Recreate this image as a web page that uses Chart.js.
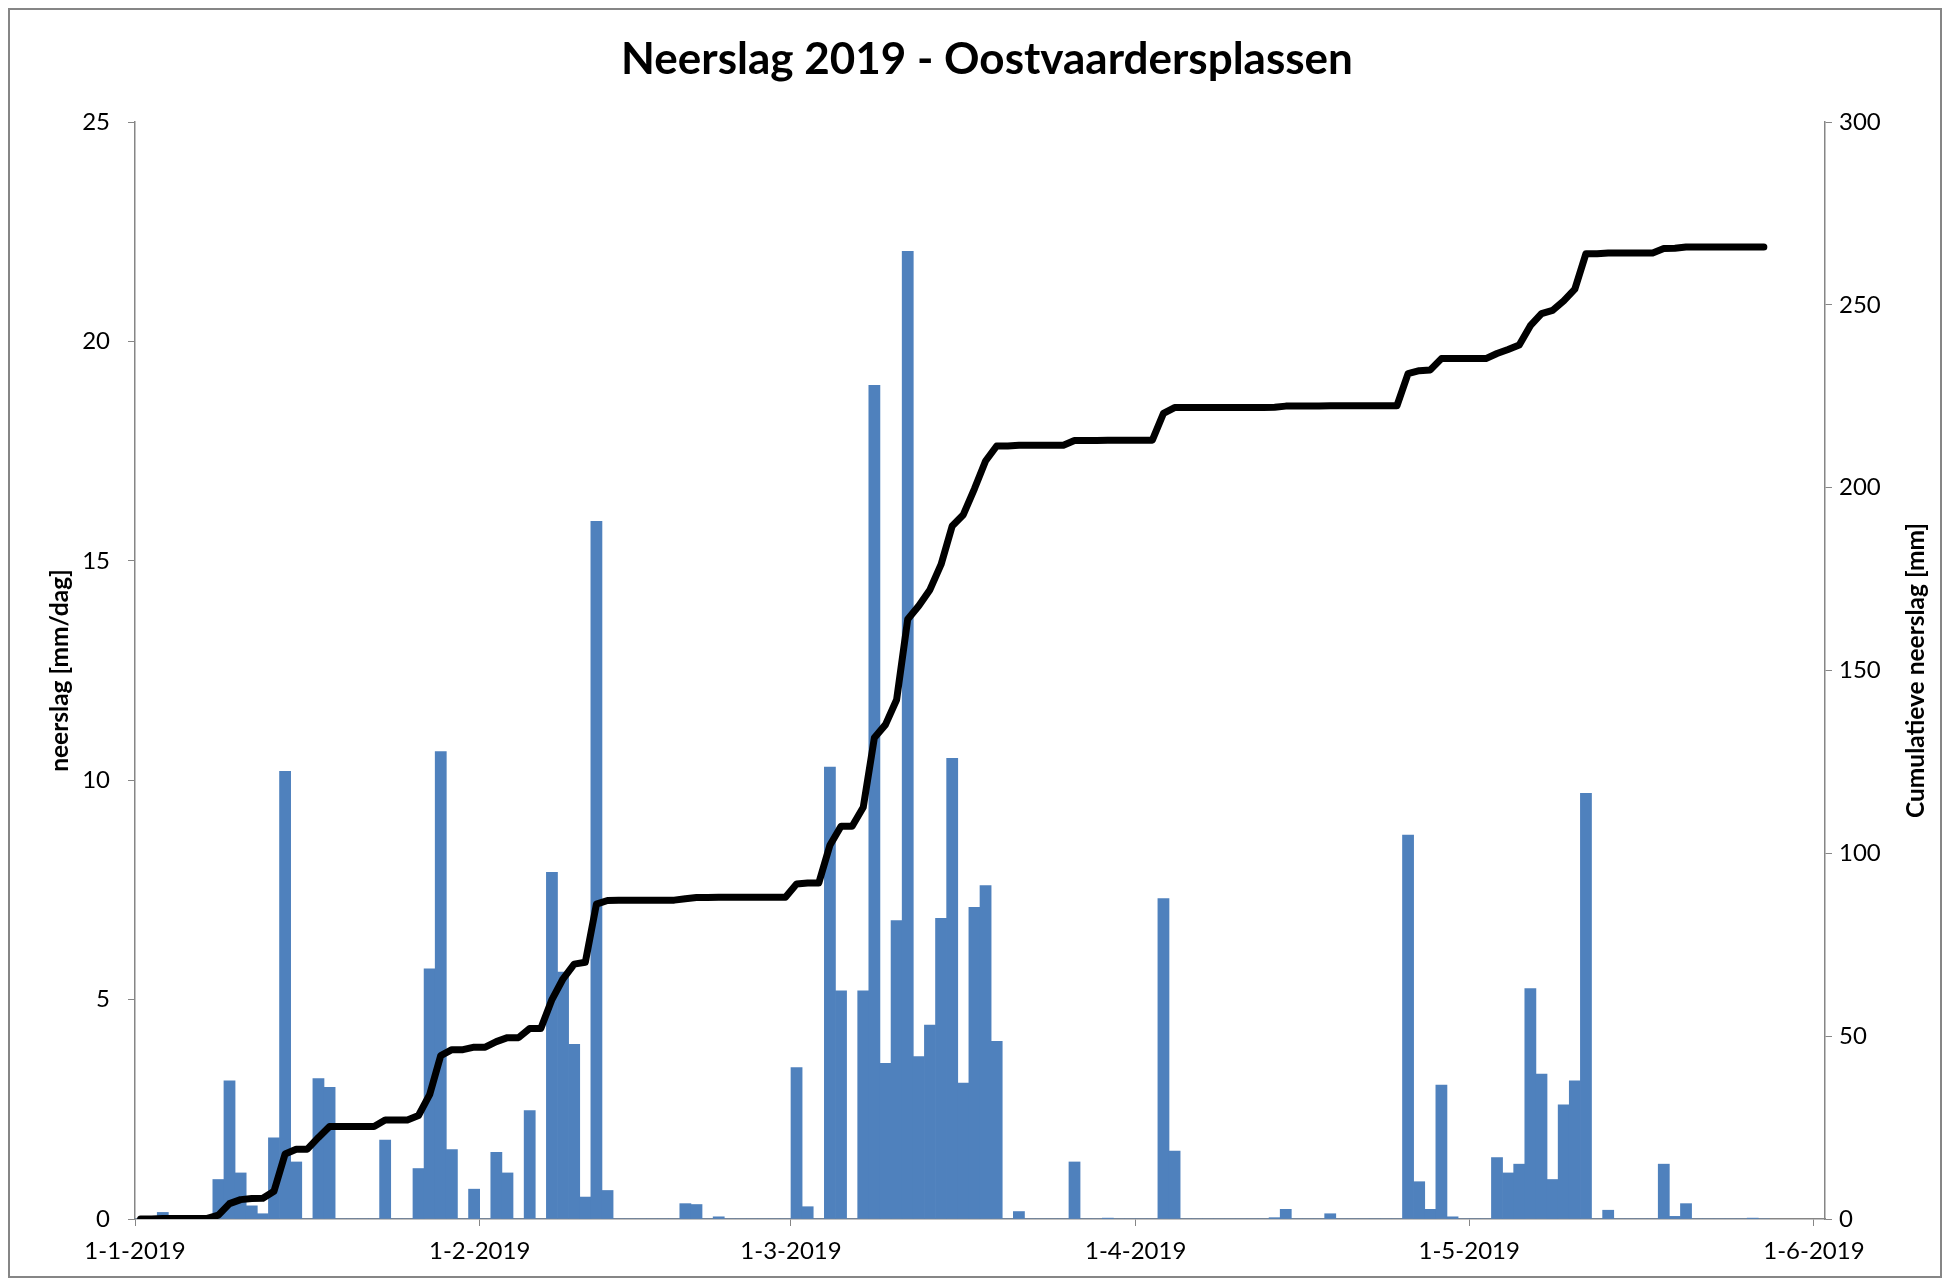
<!DOCTYPE html>
<html>
<head>
<meta charset="utf-8">
<title>Neerslag 2019 - Oostvaardersplassen</title>
<script src="https://cdn.jsdelivr.net/npm/chart.js@4.4.1/dist/chart.umd.min.js"></script>
<style>
  html, body { margin: 0; padding: 0; background: #fff; }
  #wrap { width: 1950px; height: 1281px; }
</style>
</head>
<body>
<div id="wrap"><canvas id="chart" width="1950" height="1281"></canvas></div>
<script>
// daily rainfall, 1-1-2019 .. 27-5-2019 (mm/dag)
const dailyRain = [
  0, 0, 0.15, 0, 0, 0, 0, 0.9, 3.15, 1.05,
  0.3, 0.12, 1.85, 10.2, 1.3, 0, 3.2, 3.0, 0, 0,
  0, 0, 1.8, 0, 0, 1.15, 5.7, 10.65, 1.58, 0,
  0.68, 0, 1.52, 1.05, 0, 2.47, 0, 7.9, 5.63, 3.98,
  0.5, 15.9, 0.65, 0, 0, 0, 0, 0, 0, 0.35,
  0.33, 0, 0.05, 0, 0, 0, 0, 0, 0, 3.45,
  0.28, 0, 10.3, 5.2, 0, 5.2, 19.0, 3.55, 6.8, 22.05,
  3.7, 4.42, 6.85, 10.5, 3.1, 7.1, 7.6, 4.05, 0, 0.17,
  0, 0, 0, 0, 1.3, 0, 0, 0.02, 0, 0,
  0, 0, 7.3, 1.55, 0, 0, 0, 0, 0, 0,
  0, 0, 0.03, 0.22, 0, 0, 0, 0.12, 0, 0,
  0, 0, 0, 0, 8.75, 0.85, 0.22, 3.05, 0.05, 0,
  0, 0, 1.4, 1.05, 1.25, 5.25, 3.3, 0.9, 2.6, 3.15,
  9.7, 0, 0.2, 0, 0, 0, 0, 1.25, 0.06, 0.35,
  0, 0, 0, 0, 0, 0.02, 0
];

// cumulative rainfall (mm)
const cumulativeRain = [
  0, 0, 0.15, 0.15, 0.15, 0.15, 0.15, 1.05, 4.2, 5.3,
  5.6, 5.7, 7.6, 17.8, 19.1, 19.1, 22.3, 25.3, 25.3, 25.3,
  25.3, 25.3, 27.1, 27.1, 27.1, 28.3, 34.0, 44.7, 46.3, 46.3,
  47.0, 47.0, 48.5, 49.6, 49.6, 52.1, 52.1, 60.0, 65.7, 69.7,
  70.2, 86.1, 87.1, 87.2, 87.2, 87.2, 87.2, 87.2, 87.2, 87.6,
  87.9, 87.9, 88.0, 88.0, 88.0, 88.0, 88.0, 88.0, 88.0, 91.6,
  91.9, 91.9, 102.2, 107.4, 107.4, 112.6, 131.6, 135.2, 142.0, 164.0,
  167.7, 172.1, 179.0, 189.5, 192.6, 199.7, 207.3, 211.4, 211.4, 211.6,
  211.6, 211.6, 211.6, 211.6, 212.9, 212.9, 212.9, 213.0, 213.0, 213.0,
  213.0, 213.0, 220.3, 221.9, 221.9, 221.9, 221.9, 221.9, 221.9, 221.9,
  221.9, 221.9, 222.0, 222.3, 222.3, 222.3, 222.3, 222.4, 222.4, 222.4,
  222.4, 222.4, 222.4, 222.4, 231.2, 232.0, 232.2, 235.3, 235.3, 235.3,
  235.3, 235.3, 236.7, 237.8, 239.0, 244.3, 247.6, 248.5, 251.1, 254.3,
  264.0, 264.0, 264.2, 264.2, 264.2, 264.2, 264.2, 265.4, 265.5, 265.8,
  265.8, 265.8, 265.8, 265.8, 265.8, 265.8, 265.8
];

// x axis: day number since 1-1-2019, ticks on the first of each month
const monthTicks = [0, 31, 59, 90, 120, 151];
const monthLabels = ['1-1-2019', '1-2-2019', '1-3-2019', '1-4-2019', '1-5-2019', '1-6-2019'];
const leftTicks = [0, 5, 10, 15, 20, 25];
const rightTicks = [0, 50, 100, 150, 200, 250, 300];

const chartTitle = 'Neerslag 2019 - Oostvaardersplassen';
const leftTitle = 'neerslag [mm/dag]';
const rightTitle = 'Cumulatieve neerslag [mm]';

const FONT = 'Lato';
const AXIS_GREY = '#868686';
Chart.defaults.font.family = FONT;
Chart.defaults.color = '#000';

// bars and line sit in the middle of their day
const barPoints = dailyRain.map((v, i) => ({ x: i + 0.5, y: v }));
const linePoints = cumulativeRain.map((v, i) => ({ x: i + 0.5, y: v }));

const frame = {
  id: 'frame',
  beforeDraw(chart) {
    const ctx = chart.ctx;
    ctx.save();
    ctx.fillStyle = '#fff';
    ctx.fillRect(0, 0, chart.width, chart.height);
    ctx.strokeStyle = AXIS_GREY;
    ctx.lineWidth = 2;
    ctx.strokeRect(9, 9, chart.width - 18, chart.height - 13);
    ctx.restore();
  }
};

// chart title is centred a little right of the canvas middle, so draw it here
const titleText = {
  id: 'titleText',
  afterDraw(chart) {
    const ctx = chart.ctx;
    ctx.save();
    ctx.font = 'bold 44px ' + FONT;
    ctx.fillStyle = '#000';
    ctx.textAlign = 'center';
    ctx.textBaseline = 'middle';
    ctx.fillText(chartTitle, chart.width / 2 + 12, 60);
    ctx.restore();
  }
};

// right axis title reads bottom-to-top, like the left one
const rightAxisTitle = {
  id: 'rightAxisTitle',
  afterDraw(chart) {
    const s = chart.scales.yRight;
    const ctx = chart.ctx;
    ctx.save();
    ctx.translate(s.right - 34, (s.top + s.bottom) / 2);
    ctx.rotate(-Math.PI / 2);
    ctx.font = 'bold 24.5px ' + FONT;
    ctx.fillStyle = '#000';
    ctx.textAlign = 'center';
    ctx.textBaseline = 'middle';
    ctx.fillText(rightTitle, 0, 0);
    ctx.restore();
  }
};

const axisGrid = {
  drawOnChartArea: false,
  drawTicks: true,
  tickLength: 7,
  color: AXIS_GREY,
  tickColor: AXIS_GREY
};

new Chart(document.getElementById('chart'), {
  type: 'bar',
  data: {
    datasets: [
      {
        type: 'line',
        label: rightTitle,
        data: linePoints,
        yAxisID: 'yRight',
        borderColor: '#000',
        borderWidth: 7,
        pointRadius: 0,
        tension: 0,
        borderJoinStyle: 'round',
        borderCapStyle: 'round',
        order: 0
      },
      {
        type: 'bar',
        label: leftTitle,
        data: barPoints,
        yAxisID: 'yLeft',
        backgroundColor: '#4F81BD',
        borderWidth: 0,
        barPercentage: 1,
        categoryPercentage: 1,
        order: 1
      }
    ]
  },
  options: {
    responsive: false,
    devicePixelRatio: 1,
    animation: false,
    layout: { padding: { top: 122 } },
    plugins: {
      legend: { display: false },
      tooltip: { enabled: false },
      title: { display: false }
    },
    scales: {
      x: {
        type: 'linear',
        min: 0,
        max: 152,
        offset: false,
        grid: Object.assign({ offset: false }, axisGrid),
        border: { color: AXIS_GREY, width: 1.5 },
        ticks: {
          autoSkip: false,
          maxRotation: 0,
          padding: 11,
          font: { size: 24 },
          color: '#000',
          callback: (v, i) => monthLabels[i]
        },
        afterBuildTicks: axis => { axis.ticks = monthTicks.map(v => ({ value: v })); },
        afterFit: s => { s.height = 62; }
      },
      yLeft: {
        type: 'linear',
        position: 'left',
        min: 0,
        max: 25,
        grid: axisGrid,
        border: { color: AXIS_GREY, width: 1.5 },
        ticks: { padding: 18, font: { size: 24 }, color: '#000' },
        afterBuildTicks: axis => { axis.ticks = leftTicks.map(v => ({ value: v })); },
        title: {
          display: true,
          text: leftTitle,
          font: { size: 24.5, weight: 'bold' },
          color: '#000',
          padding: { top: 45, bottom: 0 }
        },
        afterFit: s => { s.width = 135; }
      },
      yRight: {
        type: 'linear',
        position: 'right',
        min: 0,
        max: 300,
        grid: axisGrid,
        border: { color: AXIS_GREY, width: 1.5 },
        ticks: { padding: 7, font: { size: 24 }, color: '#000' },
        afterBuildTicks: axis => { axis.ticks = rightTicks.map(v => ({ value: v })); },
        afterFit: s => { s.width = 125; }
      }
    }
  },
  plugins: [frame, titleText, rightAxisTitle]
});
</script>
</body>
</html>
